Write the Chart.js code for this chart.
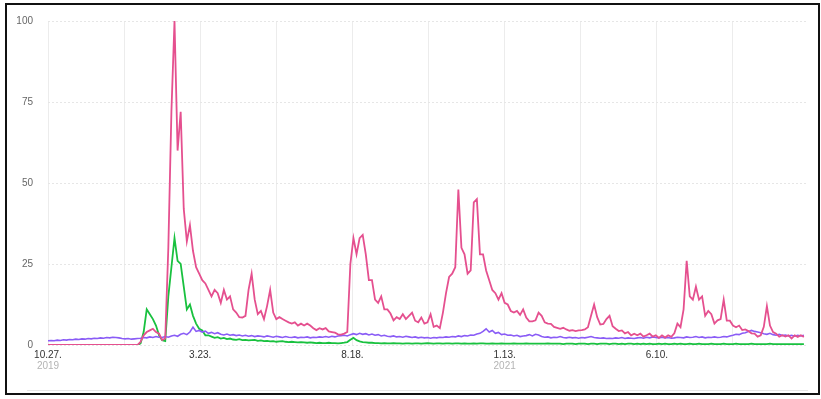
<!DOCTYPE html>
<html lang="ko">
<head>
<meta charset="UTF-8">
<title>Trend chart</title>
<script src="https://cdn.jsdelivr.net/npm/chart.js"></script>
<style>
  body { margin: 0; background: #fff; }
  .wrap { position: relative; width: 821px; height: 399px; }
  .frame { position: absolute; left: 5px; top: 3px; width: 811px; height: 388px; border: 2px solid #111; pointer-events: none; }
  .under { position: absolute; left: 27px; top: 390px; width: 781px; border-top: 1px solid #e6e6e6; }
  canvas { position: absolute; left: 0; top: 0; }
</style>
</head>
<body>
<div class="wrap">
  <canvas id="trend" width="821" height="399"></canvas>
  <div class="under"></div>
  <div class="frame"></div>
</div>
<script>
// one value every 3 days, starting 2019-10-27
const stepDays = 3;

const pinkSeries = [
  0,0,0,0,0,0,0,0,0,0, 0,0,0,0,0,0,0,0,0,0, 0,0,0,0,0,0,0,0,0,0,
  1,3,4,4.5,5,4,3.5,1.5,2,30,
  72,100,60,72,42,32,37,29,24,22,
  20,19,17,15,17,16,13,17,14,15,
  11,10,8.6,8.5,9,17,22,14,9.5,10.5,
  8,12,17,10,8,8.6,8,7.5,7,6.6,
  7,6,6.6,6,6.6,6,5.2,4.6,5.2,4.8,
  5.2,4.2,4,3.8,3.3,3.2,3.5,4,25,33,
  28,33,34,28,20,20,14,13,15,11,
  11,9.7,7.6,8.6,8,9.5,8,9,10,7.5,
  7,8.5,6.6,7,9.5,5.6,6,5.2,10,16,
  21,22,24,48,30,28,22,23,44,45,
  28,28,23,20,17,16,14,16,13,12.5,
  10.5,10,10.5,9.3,11,8.5,7.3,7.3,7.6,10,
  9,7,6.6,6.5,5.6,5.3,5,5.3,4.8,4.4,
  4.6,4.3,4.5,4.6,4.8,5.5,9,12.5,8.6,6.3,
  6.5,8,9,5.8,5,4.3,4.5,3.6,4,3,
  3.5,3,3.5,2.6,3,3.5,2.6,3,2.2,3,
  2.3,3,2.5,3.6,6.6,5.5,11,26,15,14,
  18,14,15,9,10.5,9.5,6.6,7.6,8,14,
  7.5,7.5,6,5.5,6,4.6,4.8,4.3,3.6,3.5,
  2.6,3,5.6,12,6,4,3.5,2.6,3,2.6,
  3,2,3,2.5,3,2.5
];

const purpleSeries = [
  1.3,1.4,1.3,1.5,1.4,1.6,1.5,1.7,1.6,1.8,
  1.7,1.9,1.8,2.0,1.9,2.1,2.0,2.2,2.1,2.3,
  2.2,2.4,2.3,2.2,2.0,1.9,2.0,1.8,1.9,2.0,
  2.1,2.3,2.2,2.5,2.3,2.6,2.4,2.3,2.6,2.4,
  2.8,3.0,2.7,3.3,3.6,3.2,4.0,5.5,4.2,4.5,
  4.0,4.3,3.6,3.9,3.5,3.8,3.3,3.1,3.4,3.0,
  3.2,2.9,3.1,2.8,3.0,2.7,2.9,2.6,2.8,2.7,
  2.5,2.8,2.6,2.4,2.7,2.5,2.3,2.6,2.4,2.3,
  2.5,2.2,2.4,2.3,2.5,2.2,2.4,2.3,2.5,2.4,
  2.6,2.4,2.7,2.5,2.8,2.9,3.0,2.8,3.2,3.5,
  3.2,3.6,3.3,3.5,3.1,3.4,3.0,3.2,2.8,3.0,
  2.7,2.6,2.8,2.5,2.6,2.4,2.7,2.5,2.3,2.5,
  2.2,2.4,2.2,2.3,2.1,2.3,2.2,2.4,2.3,2.5,
  2.4,2.6,2.5,2.8,2.6,2.9,2.8,3.1,3.0,3.4,
  3.6,4.2,5.0,4.0,4.5,3.6,3.9,3.2,3.4,3.0,
  3.1,2.8,3.0,2.6,2.8,2.9,3.2,2.8,3.3,3.1,
  2.6,2.4,2.5,2.2,2.4,2.3,2.6,2.3,2.2,2.4,
  2.2,2.3,2.1,2.3,2.2,2.4,2.6,2.3,2.2,2.1,
  2.2,2.0,2.1,2.0,2.2,2.1,2.3,2.0,2.2,2.1,
  2.0,2.2,2.3,2.1,2.4,2.2,2.5,2.3,2.2,2.4,
  2.2,2.3,2.1,2.2,2.4,2.3,2.2,2.5,2.3,2.4,
  2.6,2.3,2.5,2.2,2.4,2.3,2.5,2.3,2.4,2.6,
  2.5,2.8,3.0,3.3,3.2,3.6,3.8,4.2,4.5,4.2,
  4.0,3.8,3.5,3.3,3.6,3.2,3.0,3.3,2.9,3.1,
  2.8,3.0,2.7,3.0,2.8,3.0
];

const greenSeries = [
  0,0,0,0,0,0,0,0,0,0, 0,0,0,0,0,0,0,0,0,0, 0,0,0,0,0,0,0,0,0,0,
  0.5,4,11,9.5,8,6,3,1.5,1.2,15,
  24,33,26,25,18,11,12.5,9,6.6,5,
  4.5,3,3,2.6,2.2,2.4,2,2.2,1.8,2,
  1.7,1.6,1.8,1.5,1.6,1.4,1.5,1.6,1.3,1.4,
  1.2,1.3,1.1,1.2,1,1.1,1.2,1,0.9,1,
  0.9,0.8,0.9,0.8,0.7,0.8,0.7,0.6,0.7,0.6,
  0.6,0.7,0.6,0.6,0.5,0.6,0.7,0.9,1.6,2.2,
  1.5,1.1,0.9,0.8,0.7,0.7,0.6,0.6,0.5,0.6,
  0.5,0.5,0.6,0.5,0.5,0.4,0.5,0.5,0.4,0.5,
  0.5,0.4,0.5,0.6,0.5,0.4,0.5,0.5,0.4,0.5,
  0.5,0.4,0.5,0.5,0.4,0.5,0.4,0.4,0.5,0.4,
  0.5,0.5,0.4,0.4,0.5,0.4,0.4,0.5,0.4,0.4,
  0.4,0.5,0.4,0.4,0.4,0.5,0.4,0.4,0.4,0.4,
  0.4,0.4,0.5,0.4,0.4,0.4,0.4,0.3,0.4,0.4,
  0.4,0.3,0.4,0.4,0.4,0.3,0.4,0.4,0.3,0.4,
  0.4,0.4,0.3,0.4,0.4,0.3,0.4,0.3,0.4,0.4,
  0.3,0.4,0.3,0.4,0.3,0.4,0.3,0.3,0.4,0.3,
  0.4,0.3,0.3,0.4,0.3,0.4,0.3,0.3,0.4,0.3,
  0.3,0.4,0.3,0.3,0.3,0.4,0.3,0.3,0.3,0.4,
  0.3,0.3,0.3,0.4,0.3,0.3,0.3,0.3,0.4,0.3,
  0.3,0.3,0.3,0.3,0.4,0.3,0.3,0.3,0.3,0.3,
  0.3,0.3,0.3,0.3,0.3,0.3
];

// x ticks (days since 10.27.2019), every 74 days
const tickDays = [0, 74, 148, 222, 296, 370, 444, 518, 592, 666];
const tickLabels = ['10.27.', '', '3.23.', '', '8.18.', '', '1.13.', '', '6.10.', ''];
const tickYears = ['2019', '', '', '', '', '', '2021', '', '', ''];
const yTicks = [0, 25, 50, 75, 100];

function toPoints(arr) {
  return arr.map((v, i) => ({ x: i * stepDays, y: v }));
}

// year under the date label, in lighter grey
const yearLabels = {
  id: 'yearLabels',
  afterDraw(chart) {
    const ctx = chart.ctx;
    const xs = chart.scales.x;
    ctx.save();
    ctx.font = '10px "Liberation Sans", Arial, sans-serif';
    ctx.fillStyle = '#b4b4b4';
    ctx.textAlign = 'center';
    ctx.textBaseline = 'middle';
    tickDays.forEach((d, i) => {
      if (tickYears[i]) ctx.fillText(tickYears[i], xs.getPixelForValue(d), 366);
    });
    ctx.restore();
  }
};

new Chart(document.getElementById('trend'), {
  type: 'line',
  data: {
    datasets: [
      { label: 'pink', data: toPoints(pinkSeries), borderColor: '#e5508f', borderWidth: 1.8 },
      { label: 'purple', data: toPoints(purpleSeries), borderColor: '#8a5cf6', borderWidth: 1.6 },
      { label: 'green', data: toPoints(greenSeries), borderColor: '#19c13f', borderWidth: 1.8 }
    ]
  },
  options: {
    responsive: false,
    animation: false,
    layout: { padding: { top: 17, right: 14, bottom: 24, left: 0 } },
    elements: { point: { radius: 0 }, line: { tension: 0, fill: false } },
    plugins: { legend: { display: false }, tooltip: { enabled: false } },
    scales: {
      x: {
        type: 'linear',
        min: 0,
        max: 738,
        afterBuildTicks: s => { s.ticks = tickDays.map(v => ({ value: v })); },
        afterFit: s => { s.height = 30; },
        grid: { color: '#ececec', lineWidth: 1, drawTicks: false },
        border: { display: false },
        ticks: {
          autoSkip: false,
          maxRotation: 0,
          padding: 4,
          color: '#333',
          font: { size: 10, family: '"Liberation Sans", Arial, sans-serif' },
          callback: (v, i) => tickLabels[i]
        }
      },
      y: {
        min: 0,
        max: 100,
        afterBuildTicks: s => { s.ticks = yTicks.map(v => ({ value: v })); },
        afterFit: s => { s.width = 48; },
        grid: { color: '#e6e6e6', lineWidth: 1, drawTicks: false },
        border: { display: false, dash: [2, 2] },
        ticks: {
          padding: 15,
          color: '#666',
          font: { size: 10, family: '"Liberation Sans", Arial, sans-serif' }
        }
      }
    }
  },
  plugins: [yearLabels]
});
</script>
</body>
</html>
